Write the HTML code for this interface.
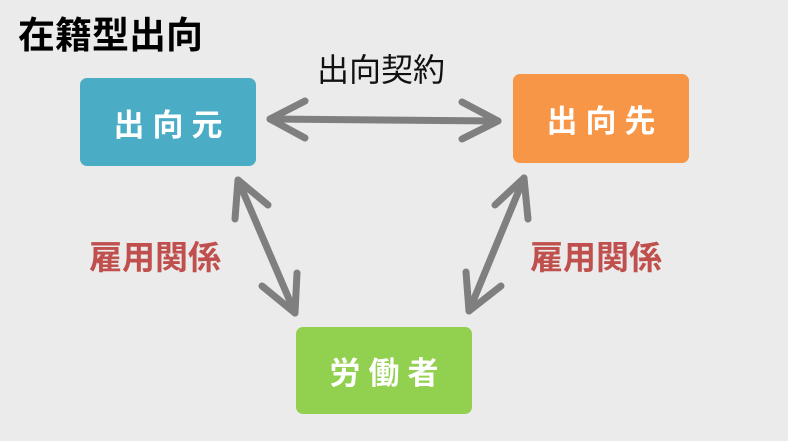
<!DOCTYPE html>
<html><head><meta charset="utf-8"><style>
body{margin:0;width:788px;height:441px;background:#ebebeb;overflow:hidden;position:relative;font-family:"Liberation Sans","Noto Sans CJK JP",sans-serif}
.t{position:absolute;white-space:nowrap;line-height:1}
.box{position:absolute;border-radius:7px;color:#fff;font-weight:bold;font-size:31px;letter-spacing:8px;text-indent:8px;display:flex;align-items:center;justify-content:center}
.r{color:#c0504d;font-weight:bold;font-size:33px}
</style></head><body>
<div class="t" style="left:18px;top:17px;font-size:37px;font-weight:bold;color:#000">在籍型出向</div>
<div class="t" style="left:317px;top:54px;font-size:32px;color:#111">出向契約</div>
<div class="box" style="left:80px;top:78px;width:176px;height:88px;background:#4bacc6">出向元</div>
<div class="box" style="left:513px;top:74px;width:176px;height:89px;background:#f79646">出向先</div>
<div class="box" style="left:296px;top:327px;width:176px;height:87px;background:#92d050">労働者</div>
<div class="t r" style="left:89px;top:241px">雇用関係</div>
<div class="t r" style="left:530px;top:241px">雇用関係</div>
<svg width="788" height="441" style="position:absolute;left:0;top:0" fill="none" stroke="#7f7f7f" stroke-width="7" stroke-linecap="round" stroke-linejoin="round">
<line x1="270" y1="119" x2="498" y2="121"/>
<polyline points="305,101 270,119 305,138"/>
<polyline points="462,102 498,121 462,139"/>
<line x1="238" y1="180" x2="295" y2="313"/>
<polyline points="235,219 238,180 268,205"/>
<polyline points="262,286 295,313 297,273"/>
<line x1="524" y1="178" x2="469" y2="311"/>
<polyline points="495,205 524,178 528,219"/>
<polyline points="466,272 469,311 501,286"/>
</svg>
</body></html>
